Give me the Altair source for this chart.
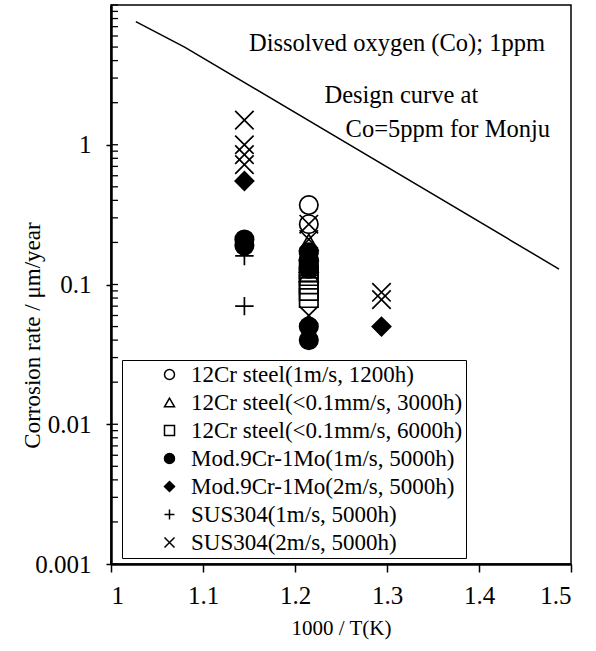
import altair as alt
import pandas as pd

# ---------------- data ----------------
series_names = [
    "12Cr steel(1m/s, 1200h)",
    "12Cr steel(<0.1mm/s, 3000h)",
    "12Cr steel(<0.1mm/s, 6000h)",
    "Mod.9Cr-1Mo(1m/s, 5000h)",
    "Mod.9Cr-1Mo(2m/s, 5000h)",
    "SUS304(1m/s, 5000h)",
    "SUS304(2m/s, 5000h)",
]

# 1000/T values and corrosion rates (um/year) per series
s1_x = [1.215, 1.215]
s1_y = [0.37, 0.27]
s2_x = [1.215, 1.215, 1.215, 1.215]
s2_y = [0.20, 0.17, 0.14, 0.12]
s3_x = [1.215, 1.215, 1.215, 1.215, 1.215]
s3_y = [0.13, 0.115, 0.10, 0.09, 0.08]
s4_x = [1.145, 1.145, 1.215, 1.215, 1.215, 1.215, 1.215]
s4_y = [0.21, 0.19, 0.17, 0.15, 0.13, 0.05, 0.04]
s5_x = [1.145, 1.294]
s5_y = [0.55, 0.05]
s6_x = [1.145, 1.145]
s6_y = [0.16, 0.07]
s7_x = [1.145, 1.145, 1.145, 1.145, 1.215, 1.215, 1.215, 1.294, 1.294]
s7_y = [1.5, 1.0, 0.85, 0.72, 0.27, 0.21, 0.06, 0.088, 0.078]

# design curve (Co = 5 ppm, Monju)
curve_x = [1.027, 1.08, 1.487]
curve_y = [7.6, 5.0, 0.129]

# annotation texts and anchors (data units)
note_text = ["Dissolved oxygen (Co);  1ppm", "Design curve at", "Co=5ppm for Monju"]
note_x = [1.150, 1.232, 1.255]
note_y = [5.3, 2.25, 1.28]

x_ticks = [1.0, 1.1, 1.2, 1.3, 1.4, 1.5]
y_ticks = [0.001, 0.01, 0.1, 1]
y_minor = [m * d for d in [0.001, 0.01, 0.1, 1] for m in range(1, 10)] + [10]

# ---------------- styling ----------------
shape_range = [
    "circle",
    "triangle-up",
    "square",
    "circle",
    "diamond",
    "M-1,0L1,0M0,-1L0,1",
    "M-1,-1L1,1M-1,1L1,-1",
]
fill_range = ["transparent", "transparent", "transparent", "black", "black",
              "transparent", "transparent"]
stroke_range = ["black"] * 7

FONT = "Liberation Serif"

rows = []
for name, xs, ys in zip(
    series_names,
    [s1_x, s2_x, s3_x, s4_x, s5_x, s6_x, s7_x],
    [s1_y, s2_y, s3_y, s4_y, s5_y, s6_y, s7_y],
):
    for a, b in zip(xs, ys):
        rows.append({"series": name, "x": a, "y": b})
pts = pd.DataFrame(rows)
curve = pd.DataFrame({"x": curve_x, "y": curve_y})
notes = pd.DataFrame({"x": note_x, "y": note_y, "label": note_text})
minor = pd.DataFrame({"y": y_minor})

xscale = alt.Scale(domain=[1.0, 1.5], nice=False, zero=False)
yscale = alt.Scale(type="log", domain=[0.001, 10], nice=False)

xaxis = alt.Axis(
    values=x_ticks, format="~g", title="1000 / T(K)", grid=False,
    tickSize=8, tickWidth=1.5, domainWidth=2.5, labelPadding=11,
    titleY=64, titleBaseline="middle",
    labelFont=FONT, labelFontSize=25, labelColor="black",
    titleFont=FONT, titleFontSize=21, titleFontWeight="normal", titleColor="black",
    domainColor="black", tickColor="black",
)
yaxis = alt.Axis(
    values=y_ticks, format="~g", title="Corrosion rate / μm/year", grid=False,
    tickSize=5, tickWidth=1.5, domainWidth=2.5, labelPadding=15,
    titleX=-79, titleY=330, titleAngle=-90, titleBaseline="middle", titleAlign="center",
    labelFont=FONT, labelFontSize=25, labelColor="black",
    titleFont=FONT, titleFontSize=23, titleFontWeight="normal", titleColor="black",
    domainColor="black", tickColor="black",
)


def X():
    return alt.X("x:Q", scale=xscale, axis=xaxis)


def Y():
    return alt.Y("y:Q", scale=yscale, axis=yaxis)


legend = alt.Legend(
    title=None, orient="none", legendX=11, legendY=355,
    strokeColor="black", fillColor="white", padding=3,
    labelFont=FONT, labelFontSize=23, labelColor="black", labelLimit=500,
    symbolSize=100, symbolStrokeWidth=1.5, symbolStrokeColor="black",
    symbolOffset=33, rowPadding=4, labelOffset=10,
)

points = alt.Chart(pts).mark_point(
    size=340, strokeWidth=1.7, opacity=1, fillOpacity=1
).encode(
    x=X(), y=Y(),
    shape=alt.Shape("series:N", scale=alt.Scale(domain=series_names, range=shape_range),
                    legend=legend, sort=series_names),
    fill=alt.Fill("series:N", scale=alt.Scale(domain=series_names, range=fill_range),
                  legend=legend, sort=series_names),
    stroke=alt.Stroke("series:N", scale=alt.Scale(domain=series_names, range=stroke_range),
                      legend=legend, sort=series_names),
)

line = alt.Chart(curve).mark_line(color="black", strokeWidth=1.5).encode(x=X(), y=Y())

text = alt.Chart(notes).mark_text(
    align="left", baseline="middle", font=FONT, fontSize=24.5, color="black"
).encode(x=X(), y=Y(), text="label:N")

ticks_in = alt.Chart(minor).mark_rule(color="black", strokeWidth=1.3).encode(
    y=Y(), x=alt.value(0), x2=alt.value(7)
)

chart = (
    alt.layer(ticks_in, line, points, text)
    .properties(
        width=460, height=559,
        padding={"left": 111, "top": 5, "right": 25, "bottom": 87},
        autosize=alt.AutoSizeParams(type="none"),
        background="white",
    )
    .configure_view(stroke="black", strokeWidth=1.5)
)

chart.save("out.html", embed_options={"renderer": "svg", "actions": False})
